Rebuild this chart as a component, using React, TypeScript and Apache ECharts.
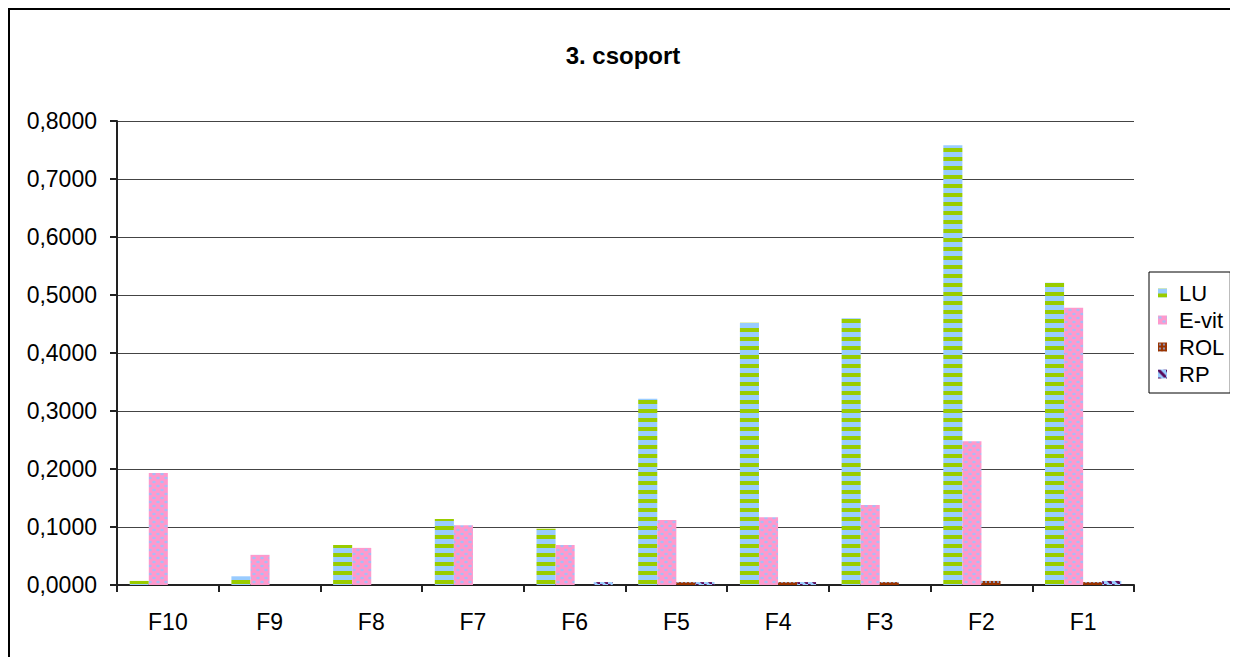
import React, { useEffect, useRef } from 'react';
import * as echarts from 'echarts';

const categories = ['F10', 'F9', 'F8', 'F7', 'F6', 'F5', 'F4', 'F3', 'F2', 'F1'];
const seriesNames = ['LU', 'E-vit', 'ROL', 'RP'];
const luValues = [0.007, 0.015, 0.069, 0.114, 0.097, 0.321, 0.452, 0.46, 0.758, 0.521];
const evitValues = [0.193, 0.052, 0.064, 0.103, 0.069, 0.112, 0.117, 0.138, 0.248, 0.478];
const rolValues = [0, 0, 0, 0, 0, 0.005, 0.005, 0.005, 0.007, 0.005];
const rpValues = [0, 0, 0, 0, 0.005, 0.005, 0.005, 0, 0, 0.007];
const yMin = 0;
const yMax = 0.8;
const yInterval = 0.1;

const FONT = '"Liberation Sans", Arial, sans-serif';

function makeTile(w: number, h: number, draw: (ctx: CanvasRenderingContext2D) => void) {
  const c = document.createElement('canvas');
  c.width = w;
  c.height = h;
  const ctx = c.getContext('2d') as CanvasRenderingContext2D;
  draw(ctx);
  return { image: c.toDataURL(), imageWidth: w, imageHeight: h, repeat: 'repeat' };
}

function buildPatterns() {
  const lu = makeTile(4, 9, (ctx) => {
    ctx.fillStyle = '#99CCFF';
    ctx.fillRect(0, 0, 4, 9);
    ctx.fillStyle = '#99CC00';
    ctx.fillRect(0, 5, 4, 4);
  });
  const evit = makeTile(8, 8, (ctx) => {
    ctx.fillStyle = '#FF99CC';
    ctx.fillRect(0, 0, 8, 8);
    ctx.fillStyle = '#A9BCF5';
    ctx.beginPath();
    ctx.ellipse(2, 2, 1.8, 1.3, 0, 0, Math.PI * 2);
    ctx.fill();
    ctx.beginPath();
    ctx.ellipse(6, 6, 1.8, 1.3, 0, 0, Math.PI * 2);
    ctx.fill();
  });
  const rol = makeTile(4, 4, (ctx) => {
    ctx.fillStyle = '#993300';
    ctx.fillRect(0, 0, 4, 4);
    ctx.fillStyle = '#8FA8D8';
    ctx.beginPath();
    ctx.arc(2, 2, 1.1, 0, Math.PI * 2);
    ctx.fill();
  });
  const rp = makeTile(8, 8, (ctx) => {
    ctx.fillStyle = '#99CCFF';
    ctx.fillRect(0, 0, 8, 8);
    ctx.strokeStyle = '#5A0A5A';
    ctx.lineWidth = 3;
    ctx.beginPath();
    ctx.moveTo(-2, -2);
    ctx.lineTo(10, 10);
    ctx.stroke();
  });
  return [lu, evit, rol, rp];
}

export default function App() {
  const ref = useRef<HTMLDivElement>(null);
  useEffect(() => {
    if (!ref.current) return;
    document.documentElement.style.overflow = 'hidden';
    document.body.style.overflow = 'hidden';
    const chart = echarts.init(ref.current, null, { renderer: 'svg' });
    const patterns = buildPatterns();
    const valuesList = [luValues, evitValues, rolValues, rpValues];
    const option: any = {
      animation: false,
      backgroundColor: '#fff',
      textStyle: { fontFamily: FONT },
      title: {
        text: '3. csoport',
        left: 610,
        textAlign: 'center',
        top: 30,
        textStyle: { fontFamily: FONT, fontSize: 24, fontWeight: 'bold', color: '#000' },
      },
      grid: { left: 109, top: 113, width: 1017, height: 464, containLabel: false },
      legend: {
        orient: 'vertical',
        left: 1141,
        top: 264,
        data: seriesNames,
        icon: 'rect',
        itemWidth: 9,
        itemHeight: 9,
        itemGap: 5,
        selectedMode: false,
        borderColor: '#000',
        borderWidth: 1,
        padding: [10, 6, 8, 9],
        textStyle: { fontFamily: FONT, fontSize: 22, color: '#000', padding: [0, 0, 0, 7] },
      },
      xAxis: {
        type: 'category',
        data: categories,
        boundaryGap: true,
        axisLine: { lineStyle: { color: '#222', width: 2 } },
        axisTick: { show: true, length: 7, alignWithLabel: false, lineStyle: { color: '#222', width: 2 } },
        axisLabel: { fontFamily: FONT, fontSize: 23, color: '#000', margin: 25 },
        splitLine: { show: false },
      },
      yAxis: {
        type: 'value',
        min: yMin,
        max: yMax,
        interval: yInterval,
        axisLine: { show: true, lineStyle: { color: '#222', width: 2 } },
        axisTick: { show: true, length: 7, lineStyle: { color: '#222', width: 2 } },
        axisLabel: {
          fontFamily: FONT,
          fontSize: 23,
          color: '#000',
          margin: 20,
          formatter: (v: number) => v.toFixed(4).replace('.', ','),
        },
        splitLine: { show: true, lineStyle: { color: '#444', width: 1 } },
      },
      graphic: [
        { type: 'line', shape: { x1: 1, y1: 0, x2: 1, y2: 649 }, style: { stroke: '#000', lineWidth: 2 } },
        { type: 'line', shape: { x1: 0, y1: 1, x2: 1230, y2: 1 }, style: { stroke: '#000', lineWidth: 2 } },
      ],
      series: seriesNames.map((name, i) => ({
        name,
        type: 'bar',
        data: valuesList[i],
        barGap: '0%',
        barCategoryGap: '25%',
        itemStyle: { color: patterns[i] },
        emphasis: { disabled: true },
      })),
    };
    chart.setOption(option);
    return () => chart.dispose();
  }, []);
  return <div ref={ref} style={{ width: 1230, height: 649 }} />;
}
